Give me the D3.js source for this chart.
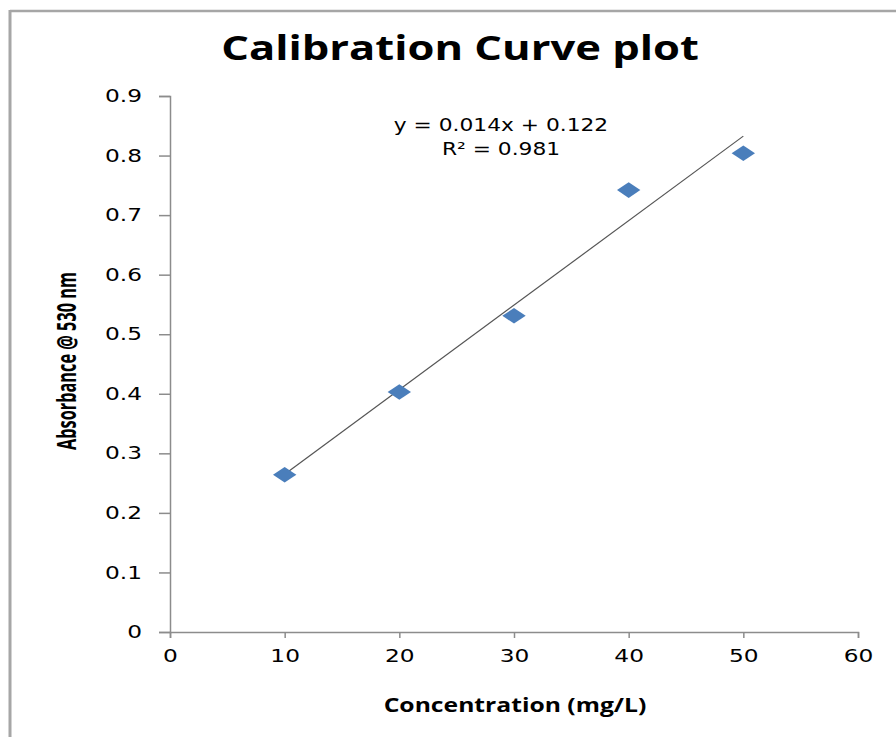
<!DOCTYPE html>
<html>
<head>
<meta charset="utf-8">
<script src="https://cdn.jsdelivr.net/npm/d3@7"></script>
<style>
body { margin:0; background:#fff; }
svg { display:block; }
</style>
</head>
<body>
<svg id="chart" width="896" height="737"></svg>
<script>
// data
var concentration = [10, 20, 30, 40, 50];
var absorbance = [0.264, 0.403, 0.531, 0.742, 0.804];
var xTicks = [0, 10, 20, 30, 40, 50, 60];
var yTicks = [0, 0.1, 0.2, 0.3, 0.4, 0.5, 0.6, 0.7, 0.8, 0.9];
var eqText = "y = 0.014x + 0.122";
var r2Text = "R\u00B2 = 0.981";

var svg = d3.select("#chart");

// frame lines (top and left only visible)
svg.append("line").attr("x1",10).attr("y1",11).attr("x2",896).attr("y2",11)
    .attr("stroke","#a6a6a6").attr("stroke-width",2.5);
svg.append("line").attr("x1",10).attr("y1",10).attr("x2",10).attr("y2",737)
    .attr("stroke","#a6a6a6").attr("stroke-width",3);

var x = d3.scaleLinear().domain([0,60]).range([170,858]);
var y = d3.scaleLinear().domain([0,0.9]).range([632,96]);

var xAxis = svg.append("g").attr("transform","translate(0,632)")
    .call(d3.axisBottom(x).tickValues(xTicks).tickSize(6).tickPadding(12).tickFormat(d3.format("d")));
var yAxis = svg.append("g").attr("transform","translate(170,0)")
    .call(d3.axisLeft(y).tickValues(yTicks).tickSize(11)
        .tickFormat(function(d){ return d===0 ? "0" : d3.format(".1f")(d); }));

[xAxis, yAxis].forEach(function(a){
    a.select(".domain").attr("stroke","#8c8c8c").attr("stroke-width",1.5);
    a.selectAll(".tick line").attr("stroke","#8c8c8c").attr("stroke-width",1.5);
    a.selectAll(".tick text")
        .attr("font-family","'DejaVu Sans', Verdana, sans-serif")
        .attr("font-size",17.5).attr("fill","#000");
});
xAxis.selectAll(".tick text").attr("transform","scale(1.33,1)");
yAxis.selectAll(".tick text").attr("x",0).attr("transform","translate(-28,0) scale(1.33,1)");

// least squares trendline
var n = concentration.length;
var mx = d3.mean(concentration), my = d3.mean(absorbance);
var sxy = 0, sxx = 0;
for (var i=0;i<n;i++) {
    sxy += (concentration[i]-mx)*(absorbance[i]-my);
    sxx += (concentration[i]-mx)*(concentration[i]-mx);
}
var slope = sxy/sxx, icpt = my - slope*mx;
var x0 = d3.min(concentration), x1 = d3.max(concentration);
svg.append("line")
    .attr("x1",x(x0)).attr("y1",y(slope*x0+icpt))
    .attr("x2",x(x1)).attr("y2",y(slope*x1+icpt))
    .attr("stroke","#555").attr("stroke-width",1.2);

// diamond markers
svg.selectAll(".pt").data(concentration).enter().append("path")
    .attr("class","pt")
    .attr("d", d3.symbol().type(d3.symbolSquare).size(190))
    .attr("transform", function(d,i){ return "translate("+x(d)+","+y(absorbance[i])+") scale(1.2,0.8) rotate(45)"; })
    .attr("fill","#4a7ebb");

// titles
svg.append("text").attr("transform","translate(460,60) scale(1.28,1)").attr("text-anchor","middle")
    .style("font-family","'Open Sans', sans-serif").style("font-weight","bold").style("font-size","34px")
    .text("Calibration Curve plot");

svg.append("text").attr("transform","translate(515,712) scale(1.3,1)").attr("text-anchor","middle")
    .style("font-family","'Open Sans', sans-serif").style("font-weight","bold").style("font-size","19px")
    .text("Concentration (mg/L)");

svg.append("text").attr("transform","translate(76,361) rotate(-90) scale(1,1.3)").attr("text-anchor","middle")
    .attr("textLength",178).attr("lengthAdjust","spacingAndGlyphs")
    .style("font-family","'Open Sans', sans-serif").style("font-weight","bold").style("font-size","20px")
    .text("Absorbance @ 530 nm");

// trendline label
svg.append("text").attr("transform","translate(501,131) scale(1.28,1)").attr("text-anchor","middle")
    .style("font-family","'DejaVu Sans', sans-serif").style("font-size","17px")
    .text(eqText);
svg.append("text").attr("transform","translate(501,155) scale(1.28,1)").attr("text-anchor","middle")
    .style("font-family","'DejaVu Sans', sans-serif").style("font-size","17px")
    .text(r2Text);
</script>
</body>
</html>
